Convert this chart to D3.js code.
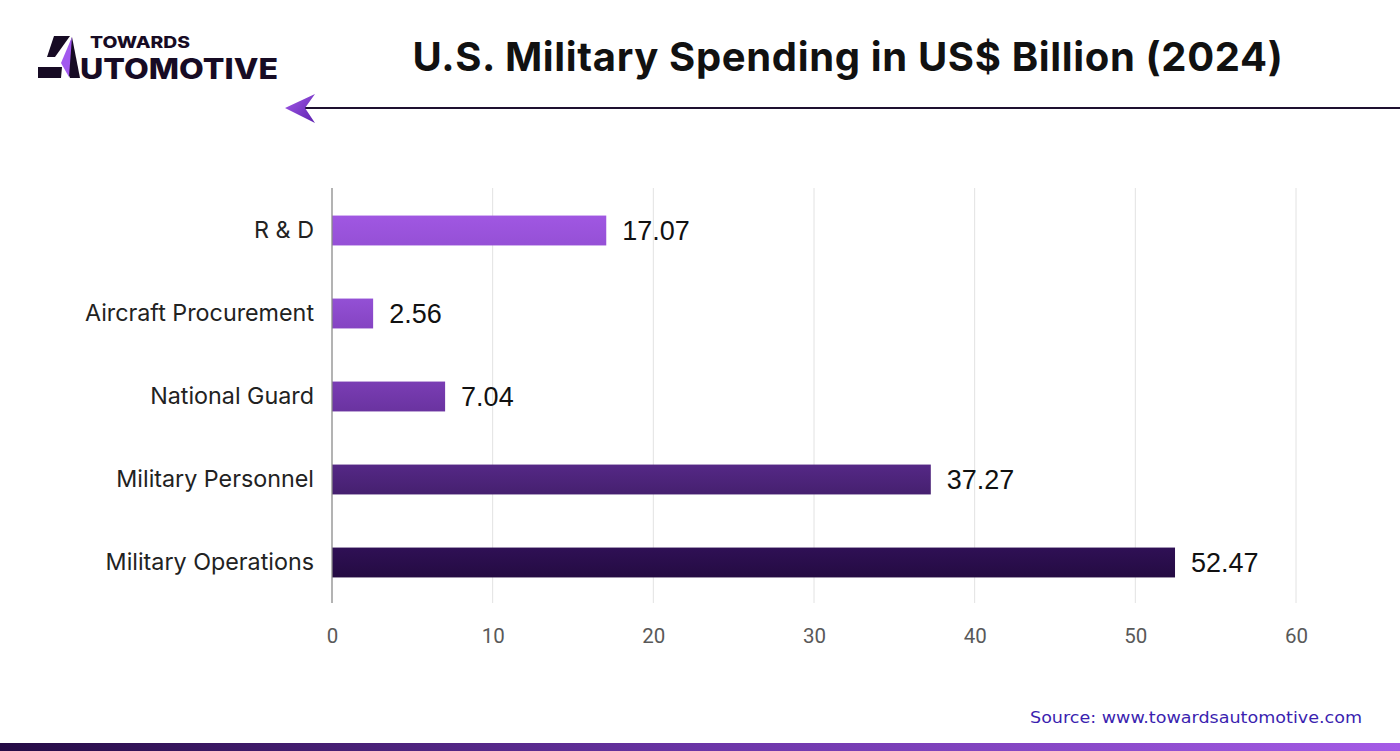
<!DOCTYPE html>
<html><head><meta charset="utf-8">
<script src="https://cdn.jsdelivr.net/npm/d3@7"></script>
<style>html,body{margin:0;padding:0;background:#fff;}svg{display:block;}</style>
</head><body>
<svg id="c" width="1400" height="751"></svg>
<script>
const categories = ["R & D", "Aircraft Procurement", "National Guard", "Military Personnel", "Military Operations"];
const values = [17.07, 2.56, 7.04, 37.27, 52.47];
const valueLabels = ["17.07", "2.56", "7.04", "37.27", "52.47"];
const tickValues = [0, 10, 20, 30, 40, 50, 60];
const barColors = [["#a057e2","#9550d6"],["#9350d5","#8544c2"],["#7a3db4","#6a33a0"],["#552886","#45206f"],["#2f1055","#240b42"]];

const svg = d3.select("#c");
const W = 1400, H = 751;
const margin = {left: 332, right: 104, top: 188, bottom: 148};
const x = d3.scaleLinear().domain([0, 60]).range([margin.left, W - margin.right]);
const y = d3.scaleBand().domain(categories).range([margin.top, H - margin.bottom]).paddingInner(0.64).paddingOuter(0.32);

const defs = svg.append("defs");
barColors.forEach((c, i) => {
  const g = defs.append("linearGradient").attr("id", "bg" + i).attr("x1", 0).attr("y1", 0).attr("x2", 0).attr("y2", 1);
  g.append("stop").attr("offset", "0%").attr("stop-color", c[0]);
  g.append("stop").attr("offset", "100%").attr("stop-color", c[1]);
});
const fb = defs.append("linearGradient").attr("id", "foot").attr("x1", 0).attr("x2", 1).attr("y1", 0).attr("y2", 0);
fb.append("stop").attr("offset", "0%").attr("stop-color", "#250b45");
fb.append("stop").attr("offset", "50%").attr("stop-color", "#6a34a6");
fb.append("stop").attr("offset", "100%").attr("stop-color", "#a45be6");
const ah = defs.append("linearGradient").attr("id", "arrow").attr("x1", 0).attr("x2", 1).attr("y1", 0).attr("y2", 1);
ah.append("stop").attr("offset", "0%").attr("stop-color", "#a35be8");
ah.append("stop").attr("offset", "100%").attr("stop-color", "#5e22b0");

// Gridlines
svg.append("g").selectAll("line").data(tickValues.slice(1)).join("line")
  .attr("x1", d => x(d)).attr("x2", d => x(d))
  .attr("y1", margin.top).attr("y2", H - margin.bottom)
  .attr("stroke", "#e2e2e2").attr("stroke-width", 1);

// X axis tick labels
const xAxis = d3.axisBottom(x).tickValues(tickValues).tickSize(0).tickPadding(25);
const gx = svg.append("g").attr("transform", `translate(0,${H - margin.bottom})`).call(xAxis);
gx.select(".domain").remove();
gx.selectAll("text").attr("font-family", "Roboto, 'Liberation Sans', sans-serif").attr("font-size", 20.5).attr("fill", "#595959");

// Bars
svg.append("g").selectAll("rect").data(values).join("rect")
  .attr("x", x(0)).attr("y", (d, i) => y(categories[i]) + 1)
  .attr("width", d => x(d) - x(0)).attr("height", y.bandwidth())
  .attr("fill", (d, i) => `url(#bg${i})`);

// Y axis line
svg.append("line").attr("x1", x(0)).attr("x2", x(0)).attr("y1", margin.top).attr("y2", H - margin.bottom)
  .attr("stroke", "#8a8a8a").attr("stroke-width", 1.3);

// Category labels
const yAxis = d3.axisLeft(y).tickSize(0).tickPadding(18);
const gy = svg.append("g").attr("transform", `translate(${x(0)},1)`).call(yAxis);
gy.select(".domain").remove();
gy.selectAll("text").attr("font-family", "Inter, 'Noto Sans', sans-serif").attr("font-size", 23.3).attr("fill", "#222");

// Value labels
svg.append("g").selectAll("text").data(values).join("text")
  .attr("x", d => x(d) + 16).attr("y", (d, i) => y(categories[i]) + y.bandwidth() / 2 + 1)
  .attr("dy", "0.36em")
  .attr("font-family", "'Liberation Sans', Arial, sans-serif").attr("font-size", 27).attr("fill", "#111")
  .text((d, i) => valueLabels[i]);

// Title
svg.append("text").attr("x", 848).attr("y", 71).attr("text-anchor", "middle")
  .attr("font-family", "Inter, sans-serif").attr("font-weight", 700).attr("font-size", 40)
  .attr("letter-spacing", 0.65).attr("fill", "#111")
  .text("U.S. Military Spending in US$ Billion (2024)");

// Header line with arrow
svg.append("line").attr("x1", 300).attr("x2", 1400).attr("y1", 108).attr("y2", 108).attr("stroke", "#1e1030").attr("stroke-width", 2);
svg.append("path").attr("d", "M285,108 L315,94 L305,108 L315,123 Z").attr("fill", "url(#arrow)");

// Logo
const logo = svg.append("g");
logo.append("path").attr("d", "M54,36 L70,36 L55,57 L47,57 Z").attr("fill", "#170b24");
logo.append("path").attr("d", "M38,67 L62,67 L61,78 L38,78 Z").attr("fill", "#170b24");
logo.append("path").attr("d", "M72,37 L64,63 L70,78 L80,78 Z").attr("fill", "#170b24");
logo.append("path").attr("d", "M72,37 L61,63 L69,77 Z").attr("fill", "#a259ef");
logo.append("text").attr("font-family", "Inter, sans-serif").attr("font-weight", 800).attr("fill", "#170b24")
  .attr("x", 90).attr("y", 47.5).attr("font-size", 16).attr("textLength", 100).attr("lengthAdjust", "spacingAndGlyphs").text("TOWARDS");
logo.append("text").attr("font-family", "Inter, sans-serif").attr("font-weight", 800).attr("fill", "#170b24")
  .attr("x", 80).attr("y", 79).attr("font-size", 28).attr("textLength", 198).attr("lengthAdjust", "spacingAndGlyphs").text("UTOMOTIVE");

// Source
svg.append("text").attr("x", 1362).attr("y", 723).attr("text-anchor", "end")
  .attr("font-family", "'DejaVu Sans', sans-serif").attr("font-size", 15.5).attr("fill", "#3b1fb0")
  .attr("textLength", 332).attr("lengthAdjust", "spacingAndGlyphs")
  .text("Source: www.towardsautomotive.com");

// Footer bar
svg.append("rect").attr("x", 0).attr("y", 743).attr("width", W).attr("height", 8).attr("fill", "url(#foot)");
</script>
</body></html>
